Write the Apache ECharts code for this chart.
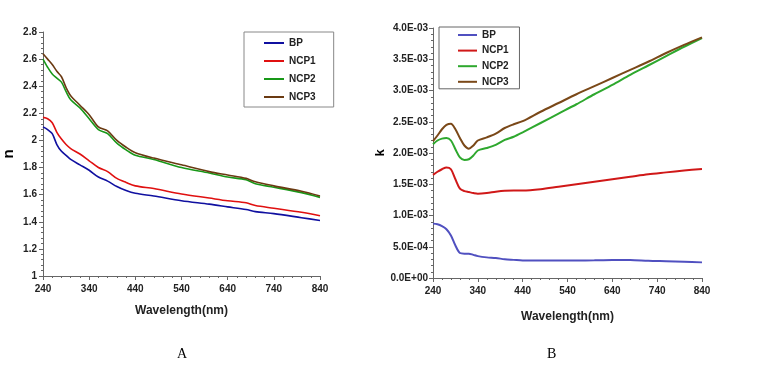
<!DOCTYPE html>
<html><head><meta charset="utf-8">
<script src="https://cdn.jsdelivr.net/npm/echarts@6/dist/echarts.min.js"></script>
<style>html,body{margin:0;padding:0;background:#fff}#c{width:761px;height:384px}</style>
</head><body><div id="c"></div>
<script>
// ---- Data: panel A (refractive index n) ----
const wlA = [240,250,260,270,280,290,300,320,340,360,380,400,420,440,480,540,600,640,680,700,740,800,840];
const nBP   = [2.10,2.08,2.05,1.97,1.92,1.89,1.86,1.82,1.78,1.73,1.70,1.66,1.63,1.61,1.59,1.555,1.53,1.51,1.49,1.475,1.46,1.43,1.41];
const nNCP1 = [2.17,2.16,2.13,2.06,2.01,1.97,1.94,1.90,1.85,1.80,1.77,1.72,1.69,1.665,1.645,1.605,1.575,1.555,1.54,1.52,1.50,1.47,1.445];
const nNCP2 = [2.60,2.54,2.49,2.46,2.43,2.36,2.30,2.24,2.16,2.08,2.05,1.98,1.93,1.89,1.86,1.80,1.76,1.73,1.71,1.68,1.655,1.615,1.58];
const nNCP3 = [2.64,2.60,2.56,2.51,2.47,2.39,2.33,2.26,2.19,2.10,2.07,2.00,1.95,1.91,1.87,1.82,1.77,1.745,1.72,1.695,1.665,1.625,1.59];
// ---- Data: panel B (extinction coefficient k, in units of 1E-03) ----
const wlB = [240,250,260,270,280,290,300,310,320,330,340,360,380,400,420,440,480,520,560,600,640,680,720,760,800,840];
const kBP   = [0.87,0.86,0.83,0.78,0.68,0.52,0.40,0.39,0.39,0.37,0.35,0.33,0.32,0.30,0.29,0.28,0.28,0.28,0.28,0.283,0.287,0.29,0.275,0.268,0.26,0.25];
const kNCP1 = [1.65,1.70,1.74,1.77,1.74,1.58,1.43,1.39,1.375,1.36,1.35,1.36,1.38,1.395,1.40,1.40,1.42,1.46,1.50,1.54,1.58,1.62,1.66,1.69,1.72,1.745];
const kNCP2 = [2.14,2.20,2.23,2.24,2.20,2.06,1.93,1.89,1.90,1.96,2.04,2.08,2.13,2.21,2.26,2.33,2.48,2.63,2.78,2.94,3.09,3.25,3.40,3.55,3.70,3.84];
const kNCP3 = [2.19,2.28,2.38,2.45,2.47,2.38,2.24,2.12,2.07,2.12,2.20,2.25,2.31,2.40,2.46,2.51,2.66,2.80,2.94,3.07,3.20,3.33,3.46,3.60,3.73,3.85];
const K_SCALE = 1e-3;
const names = ['BP','NCP1','NCP2','NCP3'];
const panelLabels = ['A','B'];

const F = "'Liberation Sans Narrow','Liberation Sans',Arial,sans-serif";
const colorsA = ['#1010a0','#e01010','#189818','#6a3a12'];
const colorsB = ['#5050c0','#d01818','#2ea82e','#7a4818'];

function pairs(xs, ys, s){ return xs.map((x,i)=>[x, ys[i]*(s||1)]); }
function kFmt(v){
  if (Math.abs(v) < 1e-12) return '0.0E+00';
  const e = v.toExponential(1).split('e');
  const exp = parseInt(e[1],10);
  const sign = exp < 0 ? '-' : '+';
  const a = Math.abs(exp);
  return e[0] + 'E' + sign + (a<10?'0':'') + a;
}

const axisCommon = (color) => ({
  axisLine:{show:true,lineStyle:{color:color,width:1}},
  axisTick:{show:true,inside:false,length:4,lineStyle:{color:color}},
  minorTick:{show:true,splitNumber:5,length:2,lineStyle:{color:color}},
  splitLine:{show:false},
  axisLabel:{fontFamily:F,fontWeight:'bold',fontSize:10,color:'#222'}
});

const chart = echarts.init(document.getElementById('c'), null, {renderer:'canvas'});
const seriesA = [nBP,nNCP1,nNCP2,nNCP3].map((d,i)=>({
  name:names[i], type:'line', xAxisIndex:0, yAxisIndex:0, data:pairs(wlA,d),
  symbol:'none', smooth:0.3, lineStyle:{color:colorsA[i],width:1.6}, itemStyle:{color:colorsA[i]}, z: i===3?3:2
}));
const seriesB = [kBP,kNCP1,kNCP2,kNCP3].map((d,i)=>({
  name:names[i]+' ', type:'line', xAxisIndex:1, yAxisIndex:1, data:pairs(wlB,d,K_SCALE),
  symbol:'none', smooth:0.3, lineStyle:{color:colorsB[i],width:2}, itemStyle:{color:colorsB[i]}, z: i===3?3:2
}));

chart.setOption({
  animation:false,
  backgroundColor:'#fff',
  title:[
    {text:panelLabels[0],left:172,top:342,textStyle:{fontFamily:"'Liberation Serif','Times New Roman',serif",fontWeight:'normal',fontSize:14,color:'#000'}},
    {text:panelLabels[1],left:542,top:342,textStyle:{fontFamily:"'Liberation Serif','Times New Roman',serif",fontWeight:'normal',fontSize:14,color:'#000'}}
  ],
  grid:[
    {left:42,right:441,top:32,bottom:108},
    {left:433,right:59,top:28,bottom:106}
  ],
  legend:[
    {data:names, orient:'vertical', left:244, top:32, padding:[6,18,5,19], itemGap:8, itemWidth:20, itemHeight:12,
     itemStyle:{opacity:0}, 
     borderColor:'#888', borderWidth:1, textStyle:{fontFamily:F,fontWeight:'bold',fontSize:10,color:'#222'}, itemTextGap:2},
    {data:names.map(n=>n+' '), orient:'vertical', left:439, top:27, padding:[3,8,2,18], itemGap:5.6, itemWidth:19, itemHeight:12,
     itemStyle:{opacity:0},
     borderColor:'#666', borderWidth:1, textStyle:{fontFamily:F,fontWeight:'bold',fontSize:10,color:'#222'}, itemTextGap:2}
  ],
  xAxis:[
    Object.assign(axisCommon('#666'),{type:'value',gridIndex:0,min:240,max:840,interval:100,
      name:'Wavelength(nm)',nameLocation:'middle',nameGap:29,
      nameTextStyle:{fontFamily:F,fontWeight:'bold',fontSize:12,color:'#222'}}),
    Object.assign(axisCommon('#666'),{type:'value',gridIndex:1,min:240,max:840,interval:100,
      name:'Wavelength(nm)',nameLocation:'middle',nameGap:33,
      nameTextStyle:{fontFamily:F,fontWeight:'bold',fontSize:12,color:'#222'}})
  ],
  yAxis:[
    Object.assign(axisCommon('#666'),{type:'value',gridIndex:0,min:1,max:2.8,interval:0.2,
      name:'n',nameLocation:'middle',nameGap:27,
      nameTextStyle:{fontFamily:"'Liberation Sans',Arial",fontWeight:'bold',fontSize:15,color:'#000'},
      axisLabel:{fontFamily:F,fontWeight:'bold',fontSize:10,color:'#222',margin:6,formatter:v=>String(Math.round(v*10)/10)}}),
    Object.assign(axisCommon('#666'),{type:'value',gridIndex:1,min:0,max:0.004,interval:0.0005,
      name:'k',nameLocation:'middle',nameGap:45,
      nameTextStyle:{fontFamily:"'Liberation Sans',Arial",fontWeight:'bold',fontSize:13,color:'#000'},
      axisLabel:{fontFamily:F,fontWeight:'bold',fontSize:10,color:'#222',margin:5,formatter:kFmt}})
  ],
  series: seriesA.concat(seriesB)
});
</script>
</body></html>
